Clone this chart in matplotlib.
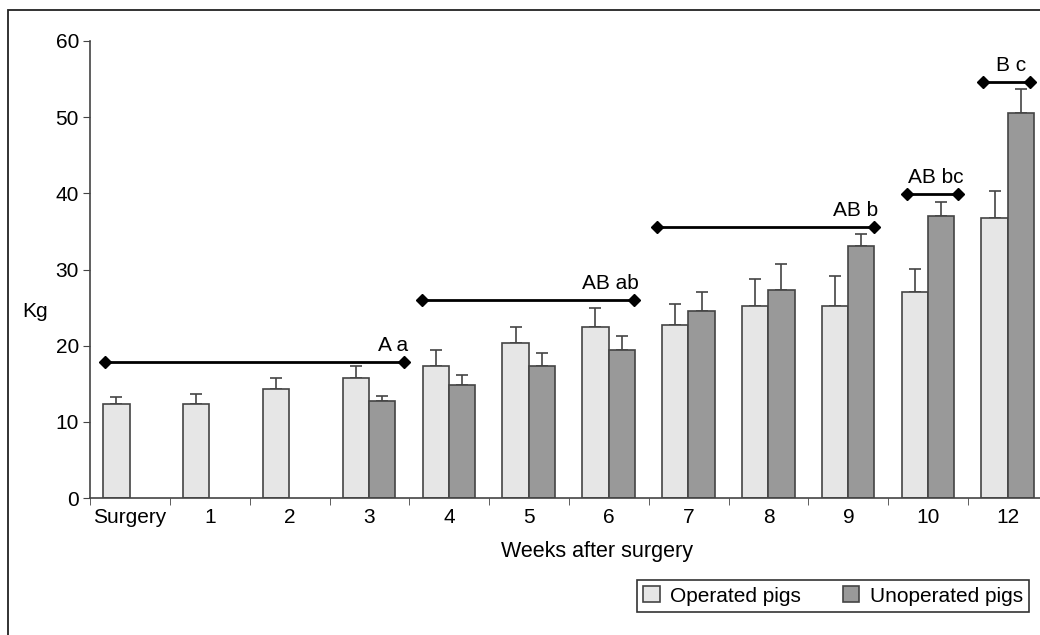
import numpy as np
import matplotlib.pyplot as plt
from matplotlib.patches import Rectangle

plt.rcParams['font.family'] = ['Liberation Sans', 'DejaVu Sans']

weeks = ['Surgery', '1', '2', '3', '4', '5', '6', '7', '8', '9', '10', '12']
operated = [12.4, 12.4, 14.3, 15.8, 17.3, 20.3, 22.5, 22.75, 25.25, 25.25, 27.0, 36.7]
operated_err = [0.9, 1.3, 1.5, 1.5, 2.1, 2.1, 2.4, 2.75, 3.55, 3.85, 3.1, 3.6]
unoperated = [np.nan, np.nan, np.nan, 12.8, 14.9, 17.3, 19.4, 24.6, 27.3, 33.1, 37.0, 50.6]
unoperated_err = [np.nan, np.nan, np.nan, 0.6, 1.2, 1.8, 1.9, 2.4, 3.4, 1.5, 1.8, 3.1]

# significance groups: (start, end, height, label)
groups = [(-0.31, 3.43, 17.9, 'A a'),
          (3.66, 6.32, 26.0, 'AB ab'),
          (6.60, 9.32, 35.6, 'AB b'),
          (9.73, 10.37, 39.9, 'AB bc'),
          (10.69, 11.28, 54.6, 'B c')]

fs = 15

fig = plt.figure(figsize=(10.4, 6.35), dpi=100)
# outer frame (cut off at right and bottom)
fig.patches.append(Rectangle((8/1040, -0.1), 1.2, 1 - 10/635 + 0.1, transform=fig.transFigure,
                             fill=False, edgecolor='#222222', lw=1.3))

ax = fig.add_axes([90/1040, 1 - 498/635, 958/1040, 457/635])
x = np.arange(len(weeks))
w = 0.33
edge = '#444444'
ax.bar(x - 0.17, operated, w, color='#e6e6e6', edgecolor=edge, lw=1.2, label='Operated pigs', zorder=2)
ax.bar(x + 0.16, unoperated, w, color='#999999', edgecolor=edge, lw=1.2, label='Unoperated pigs', zorder=2)
ax.errorbar(x - 0.17, operated, yerr=[np.zeros(len(x)), operated_err], fmt='none',
            ecolor=edge, elinewidth=1.2, capsize=4, capthick=1.2, zorder=1)
ax.errorbar(x + 0.16, unoperated, yerr=[np.zeros(len(x)), unoperated_err], fmt='none',
            ecolor=edge, elinewidth=1.2, capsize=4, capthick=1.2, zorder=1)

for x0, x1, yv, lab in groups:
    ax.plot([x0, x1], [yv, yv], color='black', lw=2, marker='D', markersize=6, zorder=3)
    if x1 - x0 > 1:
        ax.text(x1 + 0.05, yv + 0.9, lab, ha='right', va='bottom', fontsize=fs)
    else:
        ax.text((x0 + x1) / 2 + 0.05, yv + 0.9, lab, ha='center', va='bottom', fontsize=fs)

ax.set_xlim(-0.5, 11.5)
ax.set_ylim(0, 60)
ax.set_yticks(range(0, 61, 10))
ax.set_xticks(x)
ax.set_xticklabels(weeks)
ax.set_xticks(np.arange(-0.5, 12, 1), minor=True)
ax.tick_params(axis='x', which='major', length=0, pad=7, labelsize=fs)
ax.tick_params(axis='x', which='minor', length=5, color=edge, direction='out')
ax.tick_params(axis='y', length=5, color=edge, labelsize=fs, pad=3)
for s in ['top', 'right']:
    ax.spines[s].set_visible(False)
for s in ['left', 'bottom']:
    ax.spines[s].set_color(edge)
    ax.spines[s].set_linewidth(1.2)

fig.text(22/1040, 1 - 311/635, 'Kg', fontsize=fs, va='center', ha='left')
fig.text(597/1040, 1 - 552/635, 'Weeks after surgery', fontsize=15.5, va='center', ha='center')

leg = fig.legend(loc='center', bbox_to_anchor=(833/1040, 1 - 596/635), ncol=2, fontsize=fs,
                 frameon=True, fancybox=False, edgecolor='black', handlelength=0.8,
                 handleheight=0.8, columnspacing=2.0, handletextpad=0.5, borderpad=0.3)
leg.get_frame().set_linewidth(1.2)

fig.savefig('out.png', dpi=100)
